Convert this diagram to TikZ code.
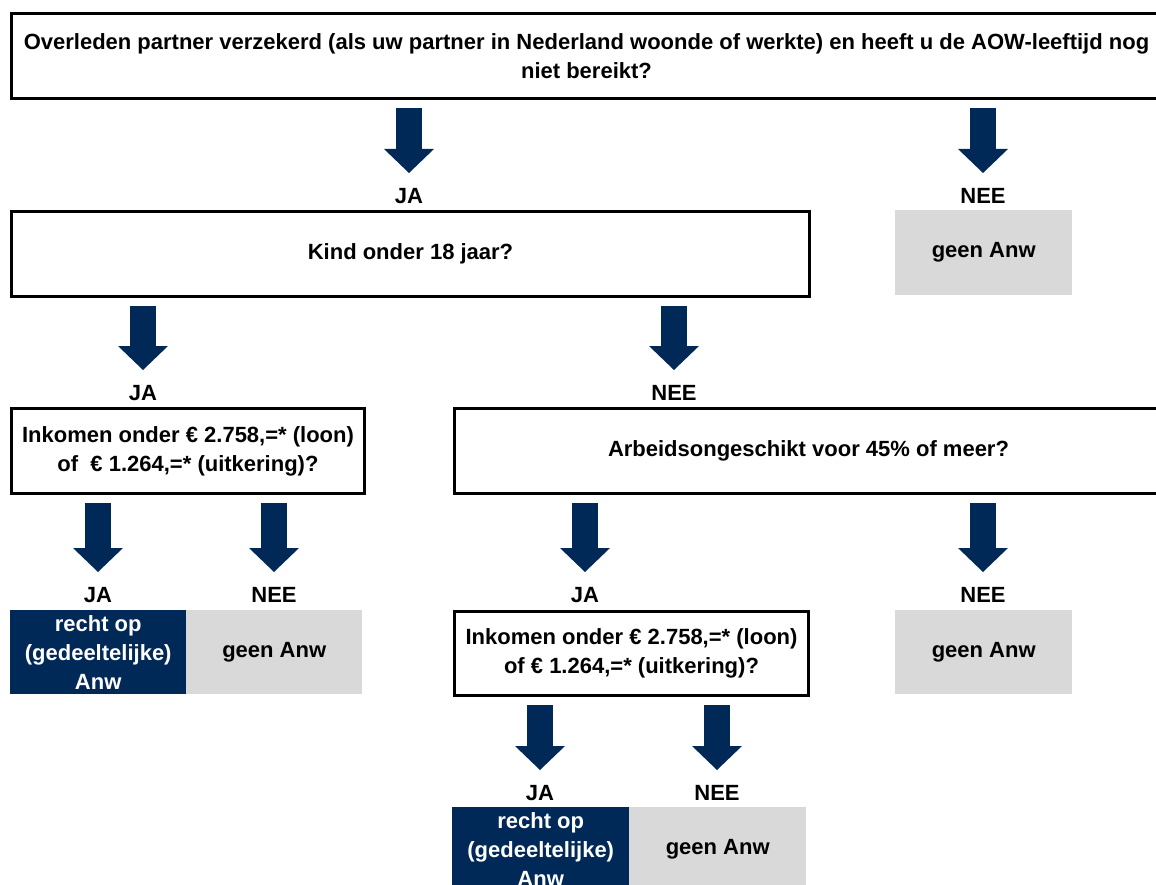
\documentclass[tikz,border=0pt]{standalone}
\usepackage{fontspec}
\setmainfont{Liberation Sans}
\usepackage{tikz}
\usetikzlibrary{arrows.meta, calc, positioning}
\definecolor{anwnavy}{RGB}{0, 41, 87}
\definecolor{anwgrey}{RGB}{217, 217, 217}

\tikzset{
	question/.style={draw, line width=3pt, fill=white, align=center, inner sep=0pt, anchor=north west},
	geen/.style={fill=anwgrey, align=center, inner sep=0pt, anchor=north west},
	recht/.style={fill=anwnavy, text=white, align=center, inner sep=0pt, anchor=north west},
	answer/.style={inner sep=0pt},
	flow/.style={anwnavy, line width=26pt, -{Triangle[width=50pt,length=24pt,line width=0pt]}}
}

\begin{document}
\begin{tikzpicture}[x=1pt, y=-1pt, font=\fontsize{22}{29}\selectfont\bfseries]
			\fill[white] (0,0) rectangle (1156,885);
			\useasboundingbox (0,0) rectangle (1156,885);
			% vragen
			\node[question, minimum width=1150pt, minimum height=85pt] (start) at (10,12)
			{Overleden partner verzekerd (als uw partner in Nederland woonde of werkte) en heeft u de AOW-leeftijd nog\\niet bereikt?};
			\node[question, minimum width=798pt, minimum height=85pt] (kind) at (10,210) {Kind onder 18 jaar?};
			\node[question, minimum width=353pt, minimum height=85pt] (inkA) at (10,407)
			{Inkomen onder € 2.758,=* (loon)\\of \ € 1.264,=* (uitkering)?};
			\node[question, minimum width=708pt, minimum height=85pt] (arbeid) at (453,407) {Arbeidsongeschikt voor 45\% of meer?};
			\node[question, minimum width=354pt, minimum height=84pt] (inkB) at (453,610)
			{Inkomen onder € 2.758,=* (loon)\\of € 1.264,=* (uitkering)?};
			% uitkomsten
			\node[geen, minimum width=177pt, minimum height=85pt] (geenA) at (895,210) {geen Anw};
			\node[recht, minimum width=176pt, minimum height=84pt] (rechtA) at (10,610) {recht op\\(gedeeltelijke)\\Anw};
			\node[geen, minimum width=176pt, minimum height=84pt] (geenB) at (186,610) {geen Anw};
			\node[geen, minimum width=177pt, minimum height=84pt] (geenC) at (895,610) {geen Anw};
			\node[recht, minimum width=177pt, minimum height=84pt] (rechtB) at (452,807) {recht op\\(gedeeltelijke)\\Anw};
			\node[geen, minimum width=177pt, minimum height=84pt] (geenD) at (629,807) {geen Anw};
			% ja / nee
			\node[answer] (ja1) at (409,196) {JA};
			\node[answer] (nee1) at (983,196) {NEE};
			\node[answer] (ja2) at (143,393) {JA};
			\node[answer] (nee2) at (674,393) {NEE};
			\node[answer] (ja3) at (98,595) {JA};
			\node[answer] (nee3) at (274,595) {NEE};
			\node[answer] (ja4) at (585,595) {JA};
			\node[answer] (nee4) at (983,595) {NEE};
			\node[answer] (ja5) at (540,793) {JA};
			\node[answer] (nee5) at (717,793) {NEE};
			% pijlen
			\foreach \from/\to in {start/ja1, start/nee1, kind/ja2, kind/nee2, inkA/ja3, inkA/nee3, arbeid/ja4, arbeid/nee4, inkB/ja5, inkB/nee5}
			\draw[flow] ([yshift=-8pt]\from.south -| \to) -- ([yshift=23pt]\to.center);
		\end{tikzpicture}
\end{document}
